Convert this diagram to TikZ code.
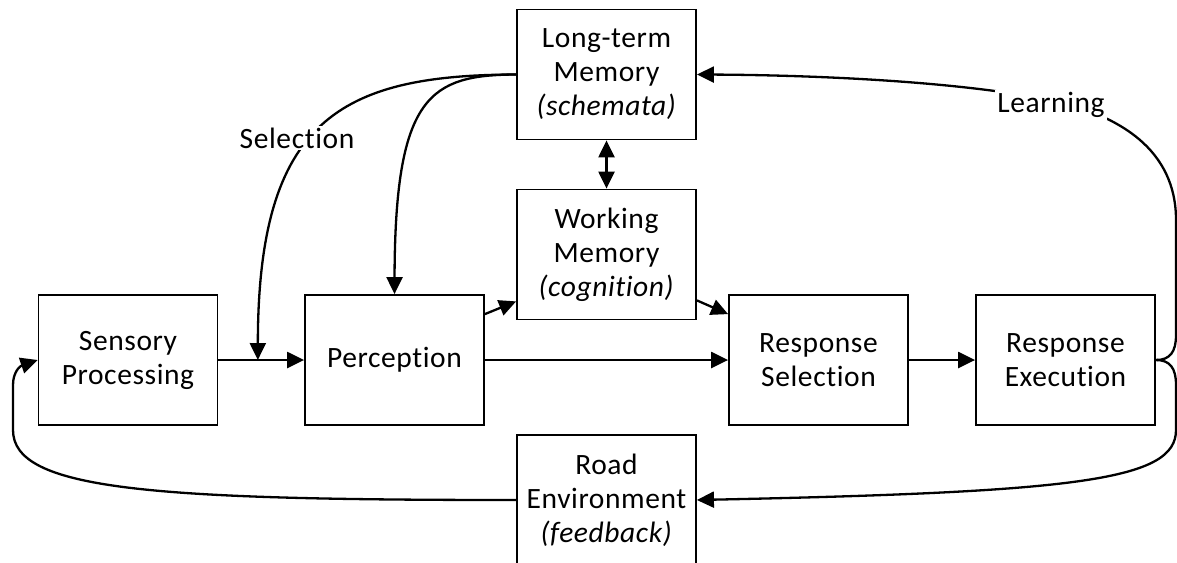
\documentclass[tikz,border=0pt]{standalone}
\usepackage{fontspec}
\setmainfont{Carlito}[Ligatures=NoCommon, LetterSpace=2]
\usetikzlibrary{arrows.meta, calc}

\begin{document}
\begin{tikzpicture}[
    x=1pt, y=-1pt,
    font=\fontsize{29.5}{34}\selectfont,
    block/.style={rectangle, draw, line width=1.8pt, minimum width=179pt, minimum height=130pt, align=center, inner sep=0pt},
    arrow/.style={-{Triangle[length=17pt, width=16pt]}, line width=2.3pt},
    twoway/.style={{Triangle[length=17pt, width=16pt]}-{Triangle[length=17pt, width=16pt]}, line width=2.3pt},
    tag/.style={fill=white, inner sep=2pt}
]
\useasboundingbox (0, 0) rectangle (1177, 562);
\clip (0, 0) rectangle (1177, 562);
\node[block] (ltm) at (606.5, 74.5) {Long-term\\Memory\\\textit{(schemata)}};
\node[block] (wm) at (606.5, 254.5) {Working\\Memory\\\textit{(cognition)}};
\node[block] (sens) at (128, 360) {Sensory\\Processing};
\node[block] (perc) at (394.5, 360) {Perception};
\node[block] (rs) at (818.5, 360) {Response\\Selection};
\node[block] (exec) at (1065.5, 360) {Response\\Execution};
\node[block] (road) at (606.5, 500) {Road\\Environment\\\textit{(feedback)}};
\coordinate (join) at ($(sens.east)!0.46!(perc.west)$);
% main chain
\draw[arrow] (sens) -- (perc);
\draw[arrow] (perc) -- (rs);
\draw[arrow] (rs) -- (exec);
\draw[arrow] ($(perc.north east)+(0, 20)$) -- ($(wm.south west)+(0, -19)$);
\draw[arrow] ($(wm.south east)+(0, -20)$) -- ($(rs.north west)+(0, 20)$);
\draw[twoway] (ltm) -- (wm);
% memory to perception
\draw[arrow] (ltm.west) .. controls (340, 75) and (258, 120) .. (join);
\draw[arrow] (ltm.west) .. controls (430, 75) and (395, 95) .. (perc.north);
\node[tag] (sel) at (297, 138) {Selection};
% feedback loops
\draw[arrow] (exec.east) .. controls (1170, 360) and (1176, 352) .. (1176, 335) -- (1176, 220)
    .. controls (1176, 150) and (1120, 115) .. (1050, 100) .. controls (950, 80) and (800, 75) .. (ltm.east);
\node[tag] (learn) at (1051, 105) {Learning};
\draw[arrow] (exec.east) .. controls (1170, 360) and (1176, 368) .. (1176, 385) -- (1176, 430)
    .. controls (1176, 480) and (1080, 492) .. (road.east);
\draw[arrow] (road.west) .. controls (150, 500) and (13, 490) .. (13, 430) -- (13, 385)
    .. controls (13, 372) and (20, 366) .. (sens.west);
\end{tikzpicture}
\end{document}
